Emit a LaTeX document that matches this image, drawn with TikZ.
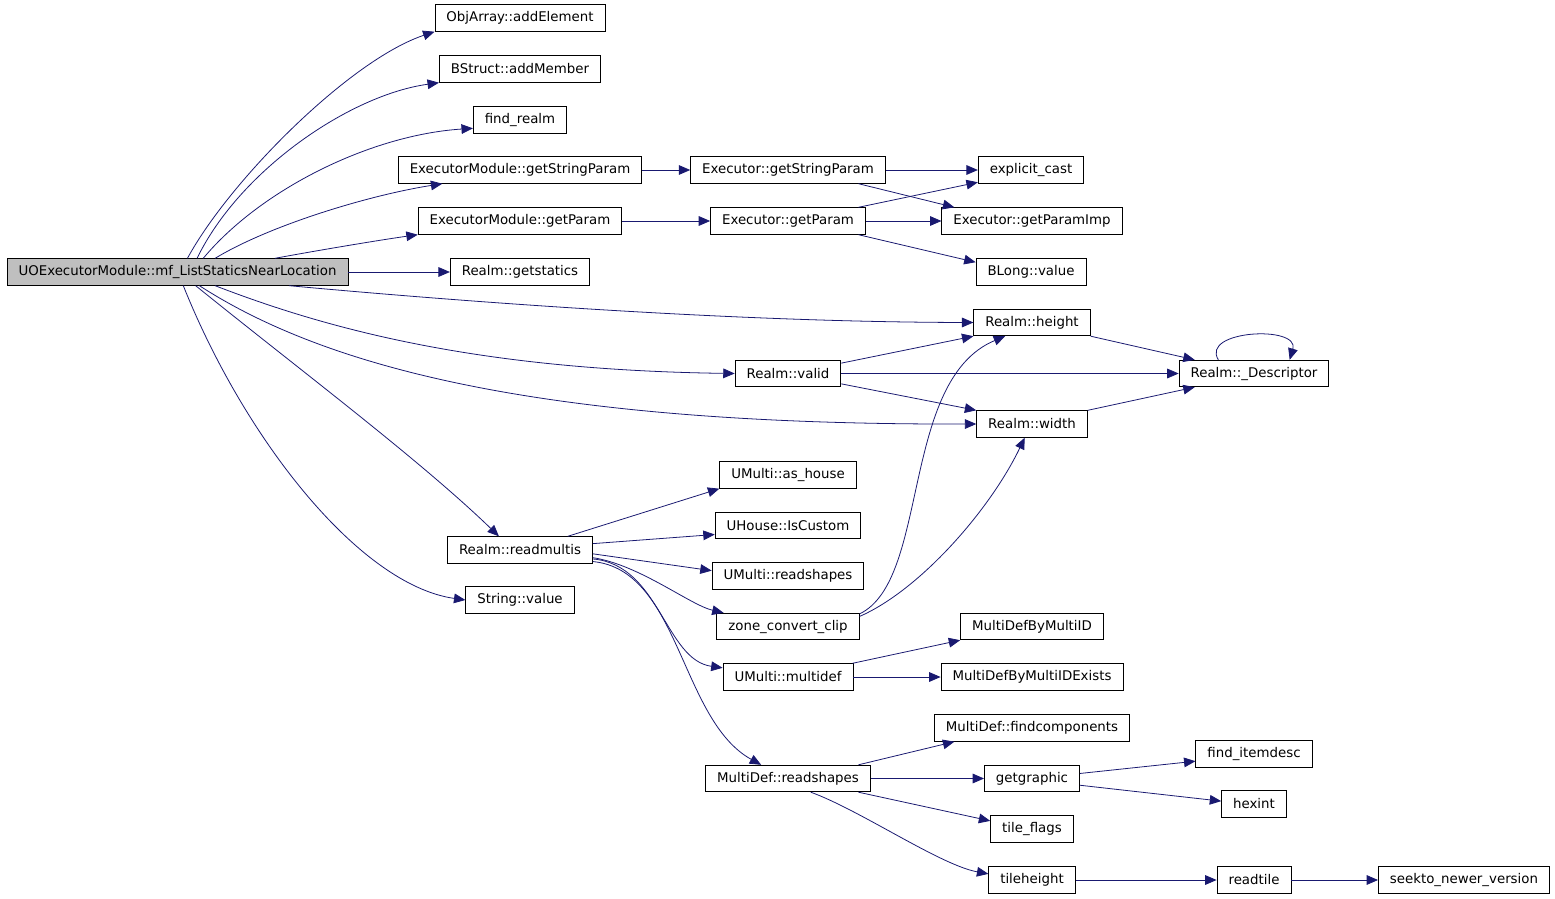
\documentclass[tikz,border=0pt]{standalone}
\usepackage{fontspec}
\setmainfont{DejaVu Sans}
\usetikzlibrary{arrows.meta}
\definecolor{callblue}{RGB}{25,25,112}
\definecolor{rootgray}{RGB}{191,191,191}

\begin{document}
\begin{tikzpicture}[x=0.02cm, y=-0.02cm,
    fn/.style={draw, rectangle, line width=0.5pt, minimum height=0.53cm, inner xsep=0.23cm, font=\fontsize{7.6}{9}\selectfont},
    call/.style={->, >={Triangle[length=6.5pt,width=5.5pt]}, draw=callblue, line width=0.45pt}]
    \useasboundingbox (0,0) rectangle (1555,899);

    \node[fn, fill=rootgray] (root) at (177.5,272) {UOExecutorModule::mf\_ListStaticsNearLocation};

    \node[fn] (addElement) at (520,18) {ObjArray::addElement};
    \node[fn] (addMember) at (520,69) {BStruct::addMember};
    \node[fn] (findRealm) at (520,120) {find\_realm};
    \node[fn] (emGetStr) at (520,170) {ExecutorModule::getStringParam};
    \node[fn] (emGetParam) at (520,221) {ExecutorModule::getParam};
    \node[fn] (getstatics) at (520,272) {Realm::getstatics};
    \node[fn] (readmultis) at (520,550) {Realm::readmultis};
    \node[fn] (stringValue) at (520,600) {String::value};

    \node[fn] (exGetStr) at (788,170) {Executor::getStringParam};
    \node[fn] (exGetParam) at (788,221) {Executor::getParam};
    \node[fn] (valid) at (788,373.5) {Realm::valid};
    \node[fn] (asHouse) at (788,475) {UMulti::as\_house};
    \node[fn] (isCustom) at (788,525.5) {UHouse::IsCustom};
    \node[fn] (umReadshapes) at (788,576) {UMulti::readshapes};
    \node[fn] (zoneClip) at (788,626.5) {zone\_convert\_clip};
    \node[fn] (multidef) at (788,677) {UMulti::multidef};
    \node[fn] (mdReadshapes) at (788,778.5) {MultiDef::readshapes};

    \node[fn] (explicitCast) at (1031,170) {explicit\_cast};
    \node[fn] (getParamImp) at (1032,221) {Executor::getParamImp};
    \node[fn] (blongValue) at (1031,272) {BLong::value};
    \node[fn] (height) at (1032,322.5) {Realm::height};
    \node[fn] (width) at (1032,424) {Realm::width};
    \node[fn] (mdById) at (1032,626.5) {MultiDefByMultiID};
    \node[fn] (mdByIdExists) at (1032,677) {MultiDefByMultiIDExists};
    \node[fn] (findcomp) at (1032,728) {MultiDef::findcomponents};
    \node[fn] (getgraphic) at (1032,778.5) {getgraphic};
    \node[fn] (tileFlags) at (1032,829) {tile\_flags};
    \node[fn] (tileheight) at (1032,880) {tileheight};

    \node[fn] (descriptor) at (1254,373.5) {Realm::\_Descriptor};
    \node[fn] (findItemdesc) at (1254,754) {find\_itemdesc};
    \node[fn] (hexint) at (1254,804) {hexint};
    \node[fn] (readtile) at (1254,880) {readtile};
    \node[fn] (seekto) at (1464,880) {seekto\_newer\_version};

    % calls from the root
    \draw[call] (root.54) .. controls (230,180) and (350,60) .. (addElement.south west);
    \draw[call] (root.35) .. controls (240,170) and (350,95) .. (addMember.south west);
    \draw[call] (root.28) .. controls (260,190) and (370,135) .. (findRealm.190);
    \draw[call] (root.20) .. controls (270,225) and (370,195) .. (emGetStr.190);
    \draw[call] (root.8) .. controls (320,250) and (380,240) .. (emGetParam.south west);
    \draw[call] (root) -- (getstatics);
    \draw[call] (root.353) .. controls (500,305) and (750,322) .. (height.west);
    \draw[call] (root.340) .. controls (330,330) and (480,370) .. (valid.west);
    \draw[call] (root.328) .. controls (330,370) and (550,425) .. (width.west);
    \draw[call] (root.323) .. controls (300,370) and (420,460) .. (readmultis.147);
    \draw[call] (root.293) .. controls (245,440) and (360,585) .. (stringValue.west);

    % executor
    \draw[call] (emGetStr) -- (exGetStr);
    \draw[call] (emGetParam) -- (exGetParam);
    \draw[call] (exGetStr) -- (explicitCast);
    \draw[call] (exGetStr.349) -- (getParamImp.170);
    \draw[call] (exGetParam.11) -- (explicitCast.193);
    \draw[call] (exGetParam) -- (getParamImp);
    \draw[call] (exGetParam.349) -- (blongValue.170);

    % realm
    \draw[call] (height.south east) -- (descriptor.167);
    \draw[call] (valid.11) -- (height.south west);
    \draw[call] (valid) -- (descriptor);
    \draw[call] (valid.349) -- (width.north west);
    \draw[call] (width.north east) -- (descriptor.193);
    \draw[call] (descriptor.159) .. controls (1200,330) and (1300,325) .. (descriptor.21);
    \draw[call] (zoneClip.10) .. controls (930,580) and (900,380) .. (height.207);
    \draw[call] (zoneClip.8) .. controls (920,590) and (990,510) .. (width.242);

    % readmultis
    \draw[call] (readmultis.16) -- (asHouse.south west);
    \draw[call] (readmultis.5) -- (isCustom.187);
    \draw[call] (readmultis.357) -- (umReadshapes.176);
    \draw[call] (readmultis.354) .. controls (640,565) and (690,605) .. (zoneClip.168);
    \draw[call] (readmultis.353) .. controls (660,565) and (665,660) .. (multidef.172);
    \draw[call] (readmultis.351) .. controls (680,570) and (680,720) .. (mdReadshapes.153);
    \draw[call] (multidef.12) -- (mdById.south west);
    \draw[call] (multidef) -- (mdByIdExists);

    % multidef shapes
    \draw[call] (mdReadshapes.11) -- (findcomp.190);
    \draw[call] (mdReadshapes) -- (getgraphic);
    \draw[call] (mdReadshapes.349) -- (tileFlags.169);
    \draw[call] (mdReadshapes.329) .. controls (860,810) and (940,865) .. (tileheight.172);
    \draw[call] (getgraphic.6) -- (findItemdesc.187);
    \draw[call] (getgraphic.352) -- (hexint.175);
    \draw[call] (tileheight) -- (readtile);
    \draw[call] (readtile) -- (seekto);
\end{tikzpicture}
\end{document}
